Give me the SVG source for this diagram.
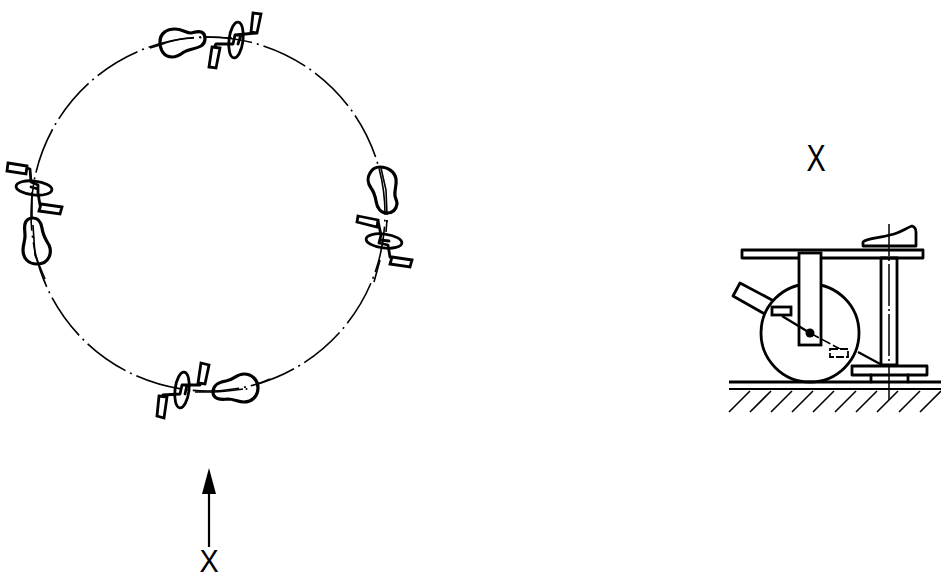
<svg xmlns="http://www.w3.org/2000/svg" width="941" height="581" viewBox="0 0 941 581">
<style>
.o{fill:none;stroke:#000;stroke-width:2.8;stroke-linejoin:round;stroke-linecap:round}
.p{fill:none;stroke:#000;stroke-width:3.2;stroke-linejoin:round}
.r{fill:#fff;stroke:#000;stroke-width:2.8;stroke-linejoin:miter}
.t{fill:none;stroke:#000;stroke-width:1.6}
.c{fill:none;stroke:#000;stroke-width:1.6;stroke-dasharray:46.500 5 2 5;stroke-dashoffset:45.800}
.x{font-family:"Liberation Sans",Arial,sans-serif;font-size:36px;fill:#000}
</style>
<g id="track"><circle class="c" cx="208" cy="214" r="177"/></g>
<g id="unit-top">
<path class="p" d="M160 42C160 33 167 29 175 29C182 29 186 33 191 33C196 32 200 30 203 33C206 36 206 43 201 46C196 49 189 49 184 52C180 55 176 57 172 57C164 57 160 50 160 42Z"/>
<path class="t" d="M150 48L160 45C170 41 182 38 194 38M205 37L232 38"/>
<circle cx="200.500" cy="37.500" r="1"/>
<ellipse class="o" cx="236" cy="40" rx="7" ry="18" transform="rotate(7 236 40)"/>
<path class="o" d="M256 33L235 35L233 44L216 44L214 48M241 35L238 44"/>
<path class="r" d="M253 13L261 14L257 33L251 32Z"/>
<path class="r" d="M212 47L220 48L216 68L209 67Z"/>
</g>
<g id="unit-left">
<path class="p" d="M33 218C38 218 41 222 42 228C43 236 46 240 49 245C52 252 50 264 37 264C28 264 23 258 23 250C23 244 25 242 25 236C25 230 24 228 25 224C26 220 29 218 33 218Z"/>
<path class="t" d="M32 192L32 218M33 225L35 255L45 279"/>
<circle cx="33.500" cy="237.500" r="1"/>
<ellipse class="o" cx="34" cy="188" rx="18" ry="7" transform="rotate(6 34 188)"/>
<path class="o" d="M27 168L30 169L31 182L38 185L38 193L40 205M31 187L38 189"/>
<path class="r" d="M8 163L27 166L26 174L7 171Z"/>
<path class="r" d="M41 204L62 207L60 214L39 211Z"/>
</g>
<g id="unit-right">
<path class="p" d="M380 167C388 167 395 172 396 179C397 186 394 190 395 196C396 200 397 201 397 204C396 210 392 213 387 213C381 213 377 208 376 201C375 195 374 192 371 188C367 182 367 178 370 173C372 169 376 167 380 167Z"/>
<path class="t" d="M381 168L386 190L387 215M387 220L386 232M380 260L374 282"/>
<circle cx="387" cy="221" r="1"/>
<ellipse class="o" cx="384" cy="241" rx="18" ry="7" transform="rotate(7 384 241)"/>
<path class="o" d="M378 221L381 235L379 243L388 245L390 257M380 240L389 241"/>
<path class="r" d="M358 216L378 220L377 227L357 222Z"/>
<path class="r" d="M392 257L412 260L410 267L390 264Z"/>
</g>
<g id="unit-bottom">
<path class="p" d="M213 392C213 386 218 382 226 381C234 380 236 374 244 374C252 374 258 380 258 388C258 396 252 402 244 402C238 402 234 399 228 399C220 400 213 399 213 392Z"/>
<path class="t" d="M195 392L213 392C225 392 236 390 243 389M258 384L270 379"/>
<circle cx="246.500" cy="389" r="1"/>
<ellipse class="o" cx="182" cy="390" rx="7" ry="18" transform="rotate(7 182 390)"/>
<path class="o" d="M200 385L182 385L180 394L163 395L162 398M187 385L185 394"/>
<path class="r" d="M201 363L209 365L205 384L198 383Z"/>
<path class="r" d="M159 396L167 397L164 418L157 416Z"/>
</g>
<g id="arrow">
<path d="M209 493V547" fill="none" stroke="#000" stroke-width="2.200"/>
<path d="M209 468L216 494L202 494Z" fill="#000"/>
</g>
<text class="x" transform="translate(199.500 572) scale(.8 .85)">X</text>
<text class="x" transform="translate(806.500 171) scale(.8 1.030)">X</text>
<g id="side-view">
<path class="o" d="M863 246L863 242C866 238 880 238 890 235C900 233 906 228 912 226C915 227 916 229 916 232L916 246Z"/>
<path d="M772 300L740 283L733 296L763 313" class="o"/>
<circle class="o" cx="810" cy="333" r="49"/>
<rect class="o" x="742" y="250" width="181" height="8"/>
<rect class="r" x="799" y="253" width="22" height="92"/>
<path d="M782 316L810 333" fill="none" stroke="#000" stroke-width="2.400"/>
<path d="M810 333L840 349" fill="none" stroke="#000" stroke-width="1.600" stroke-dasharray="10 3"/>
<circle cx="810" cy="333" r="4.500"/>
<rect class="r" x="772" y="307" width="19" height="8"/>
<rect x="830" y="349" width="18" height="8" fill="#fff" stroke="#000" stroke-width="1.800" stroke-dasharray="8 2"/>
<path d="M858 352L882 365" fill="none" stroke="#000" stroke-width="2.400"/>
<rect class="o" x="881" y="258" width="16" height="107"/>
<rect class="o" x="852" y="366" width="75" height="9"/>
<path class="o" d="M871 375V382M908 375V382"/>
<path d="M889 224V400" fill="none" stroke="#000" stroke-width="1.500" stroke-dasharray="42 3 2 3" stroke-dashoffset="10"/>
<path d="M729 382H941" stroke="#000" stroke-width="3.200" fill="none"/>
<path d="M729 389H941" stroke="#000" stroke-width="1.800" fill="none"/>
<path class="t" d="M729 412L750 391M750 412L771 391M771 412L792 391M792 412L813 391M813 412L834 391M835 412L856 391M856 412L877 391M877 412L898 391M899 412L920 391M920 412L941 391"/>
</g>
</svg>
